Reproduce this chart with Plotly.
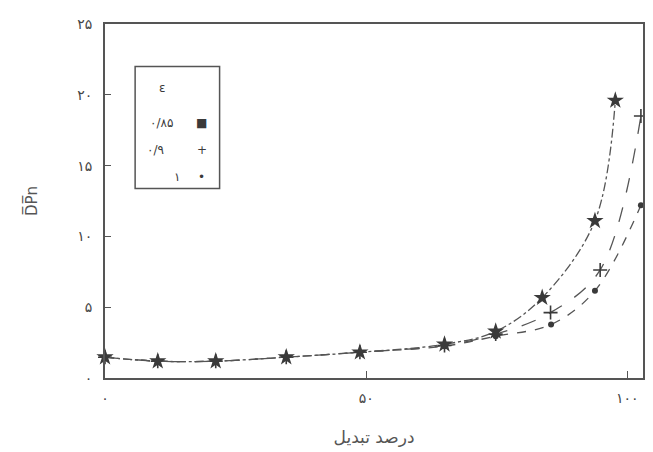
import plotly.graph_objects as go

# Conversion percent (x) and number-average degree of polymerization (y)
x_085 = [0, 10.1, 21.2, 34.7, 48.8, 65.0, 74.8, 83.7, 93.8, 97.7]
y_085 = [1.47, 1.19, 1.19, 1.47, 1.82, 2.38, 3.29, 5.67, 11.1, 19.6]

x_09 = [0, 10.1, 21.2, 34.7, 48.8, 65.0, 74.8, 85.3, 94.8, 102.6]
y_09 = [1.47, 1.19, 1.19, 1.47, 1.82, 2.30, 3.10, 4.62, 7.63, 18.5]

x_1 = [0, 10.1, 21.2, 34.7, 48.8, 65.0, 74.8, 85.4, 93.8, 102.6]
y_1 = [1.47, 1.19, 1.19, 1.47, 1.82, 2.25, 2.95, 3.78, 6.16, 12.2]

x_tickvals = [0, 50, 100]
x_ticktext = ["۰", "۵۰", "۱۰۰"]
y_tickvals = [0, 5, 10, 15, 20, 25]
y_ticktext = ["۰", "۵", "۱۰", "۱۵", "۲۰", "۲۵"]

legend_title = "ε"
legend_labels = ["۰/۸۵", "۰/۹", "۱"]
legend_symbols = ["■", "+", "•"]

ink = "#3a3a3a"
line_ink = "#555555"
font = "DejaVu Sans"

fig = go.Figure()

fig.add_trace(go.Scatter(
    x=x_1, y=y_1, mode="lines+markers", cliponaxis=False,
    line=dict(color=line_ink, width=1.3, dash="dash", shape="spline"),
    marker=dict(symbol="circle", size=6, color=ink), name=legend_labels[2]))
fig.add_trace(go.Scatter(
    x=x_09, y=y_09, mode="lines+markers", cliponaxis=False,
    line=dict(color=line_ink, width=1.3, dash="longdash", shape="spline"),
    marker=dict(symbol="cross-thin", size=10, color=ink, line=dict(color=ink, width=1.6)), name=legend_labels[1]))
fig.add_trace(go.Scatter(
    x=x_085, y=y_085, mode="lines+markers", cliponaxis=False,
    line=dict(color=line_ink, width=1.3, dash="dashdot", shape="spline"),
    marker=dict(symbol="star", size=13, color=ink), name=legend_labels[0]))

# legend box drawn by hand (paper coordinates)
fig.add_shape(type="rect", xref="paper", yref="paper", x0=0.056, x1=0.213, y0=0.535, y1=0.88,
              line=dict(color="#555", width=1.5), fillcolor="white")

ann = []
ann.append(dict(x=0.107, y=0.818, text=legend_title))
rows_y = [0.72, 0.644, 0.569]
text_x = [0.105, 0.093, 0.133]
for i in range(3):
    ann.append(dict(x=text_x[i], y=rows_y[i], text=legend_labels[i]))
    ann.append(dict(x=0.18, y=rows_y[i], text=legend_symbols[i]))
for a in ann:
    fig.add_annotation(xref="paper", yref="paper", showarrow=False, xanchor="center", yanchor="middle",
                       font=dict(family=font, size=12, color=ink), **a)

# page body adds an 8px margin, so the figure is made 8px smaller and shifted
fig.update_layout(
    width=645, height=444,
    margin=dict(l=97, r=8, t=14, b=73),
    paper_bgcolor="white", plot_bgcolor="white",
    showlegend=False,
    font=dict(family=font, color="#555", size=14),
)
fig.update_xaxes(range=[0, 103], tickvals=x_tickvals, ticktext=x_ticktext,
                 showgrid=False, zeroline=False, showline=True, mirror=True,
                 linecolor="#555", linewidth=2, ticks="inside", ticklen=7, tickcolor="#555",
                 ticklabelstandoff=6,
                 tickfont=dict(family=font, size=14, color="#444"),
                 title=dict(text="درصد تبدیل", font=dict(family=font, size=17, color="#555"), standoff=26))
fig.update_yaxes(range=[0, 25], tickvals=y_tickvals, ticktext=y_ticktext,
                 showgrid=False, zeroline=False, showline=True, mirror=True,
                 linecolor="#555", linewidth=2, ticks="inside", ticklen=6, tickcolor="#555",
                 ticklabelstandoff=8,
                 tickfont=dict(family=font, size=14, color="#444"),
                 title=dict(text="D̅P̅n", font=dict(family=font, size=15, color="#555"), standoff=36))

fig.write_html("out.html")
